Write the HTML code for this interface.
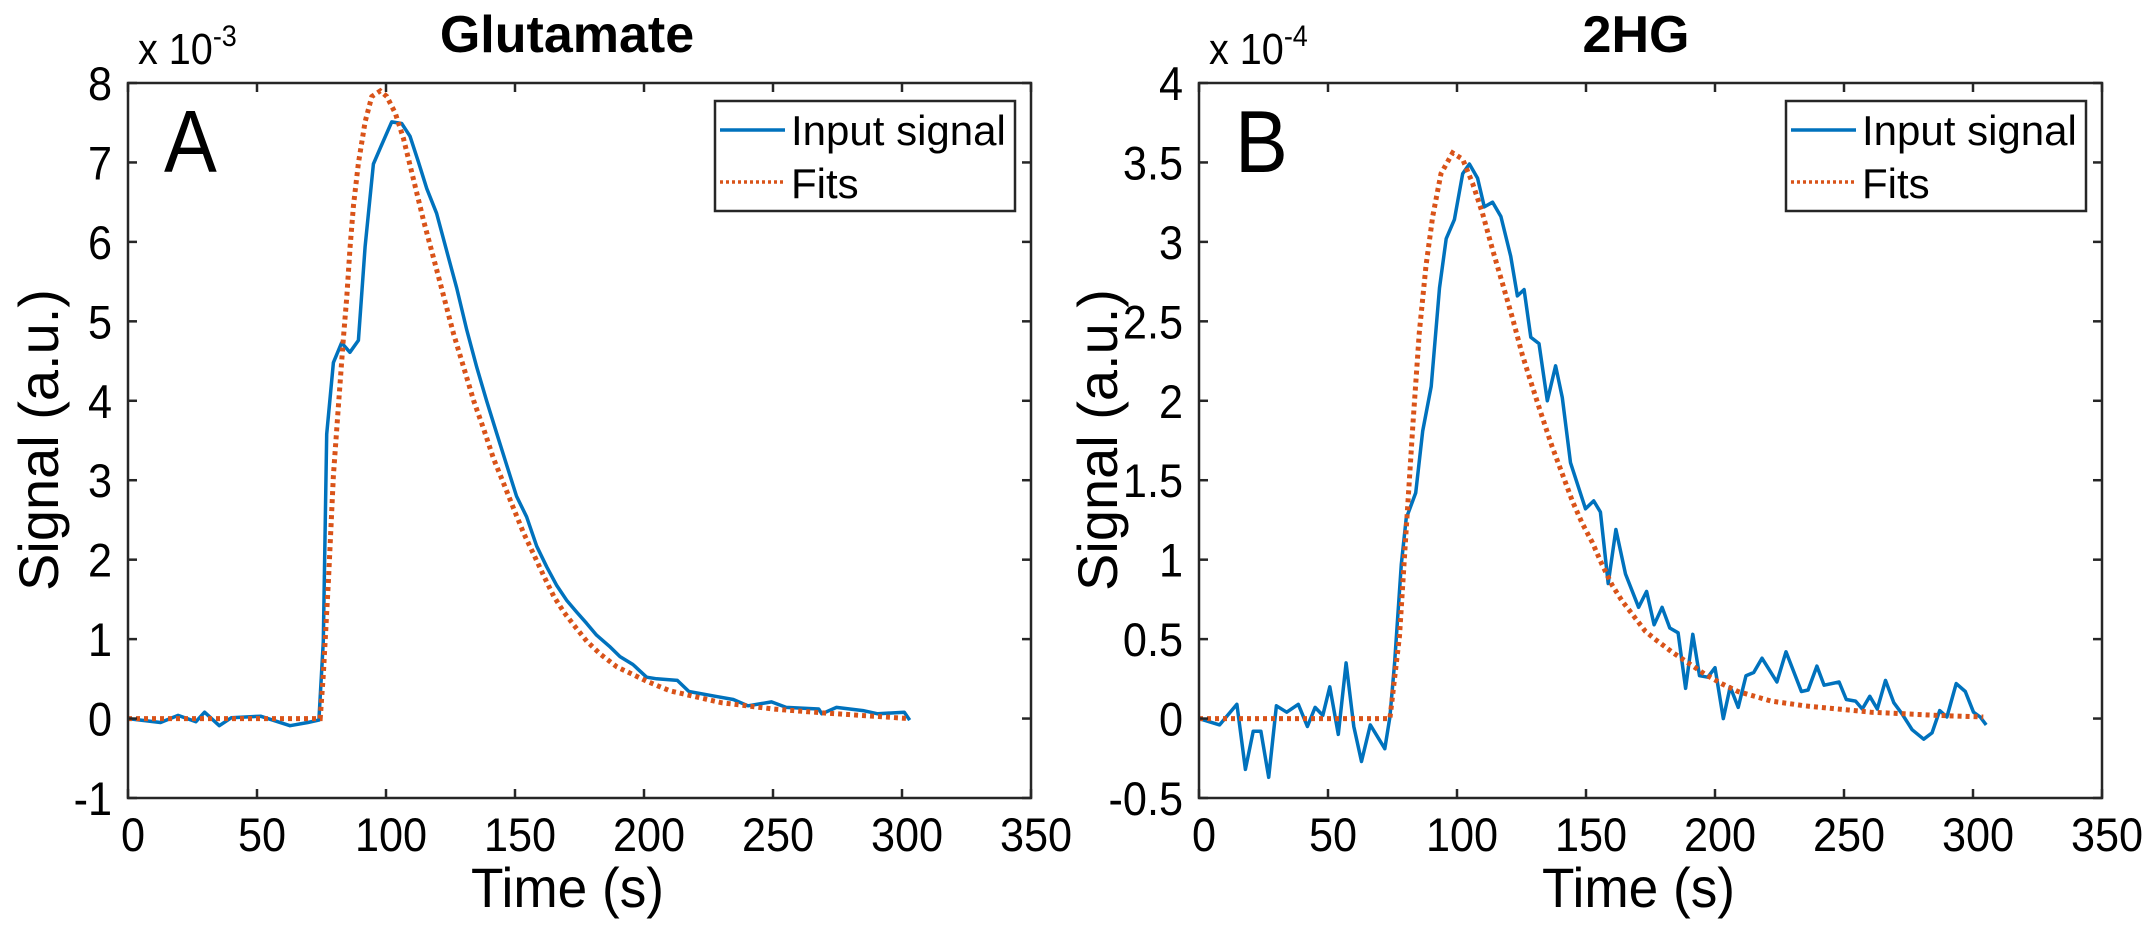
<!DOCTYPE html>
<html><head><meta charset="utf-8"><style>
html,body{margin:0;padding:0;background:#fff;}
svg{display:block;font-family:"Liberation Sans",sans-serif;}
</style></head><body>
<svg id="fig" width="2154" height="927" viewBox="0 0 2154 927" xmlns="http://www.w3.org/2000/svg"></svg>
<script>
// Glutamate (x 1e-3)
const gluInputTime=[0,12.6,19.4,26.3,29.7,35.4,40,51.4,62.8,69.7,74,75.7,77,79.6,82.8,86,89.3,91.9,95.1,98.3,102.2,106.1,109.3,112.5,115.8,119.6,123.5,127.4,131.3,135.2,139,142.9,146.8,150.6,154.5,158.4,162.3,166.1,170,173.9,177.7,181.6,186.6,190.7,195.7,201,204.9,212.9,217.4,227.7,234.6,240.3,249.4,255.1,267.7,268.9,274.6,284.9,290.6,300.9,303];
const gluInputVal=[0,-0.05,0.04,-0.04,0.08,-0.09,0.01,0.03,-0.09,-0.05,-0.02,0.97,3.58,4.48,4.73,4.61,4.76,5.94,6.98,7.22,7.51,7.49,7.33,7.01,6.67,6.36,5.89,5.42,4.89,4.42,4.0,3.59,3.19,2.8,2.54,2.17,1.91,1.68,1.49,1.34,1.2,1.05,0.91,0.78,0.68,0.52,0.5,0.48,0.34,0.28,0.24,0.16,0.21,0.14,0.12,0.06,0.14,0.1,0.06,0.08,-0.02];
const gluFitTime=[0,74.5,75.7,77.7,79.6,81.6,83.5,84.8,86.1,87.4,89.3,91.9,94.5,97.8,100.3,103.6,106.8,110.7,114.6,118.5,122.4,126.2,130.1,134,137.9,141.7,145.6,149.5,153.4,157.2,161.1,165,168.9,172.7,177.9,183.1,189.5,196,201,210,230,250,270,303];
const gluFitVal=[0,0,0.55,1.75,3.06,3.95,4.79,5.31,5.94,6.46,6.99,7.51,7.83,7.9,7.83,7.62,7.3,6.78,6.26,5.79,5.31,4.84,4.42,4.0,3.64,3.27,2.96,2.64,2.33,2.07,1.8,1.54,1.34,1.18,0.97,0.81,0.65,0.55,0.47,0.35,0.2,0.12,0.07,0.0];
const gluTicksY=[-1,0,1,2,3,4,5,6,7,8];
// 2HG (x 1e-4)
const hgInputTime=[0,8,14.7,18,21,24,27,30,34,38.5,42,45,48,50.7,54,57,60,63,66.4,72,74,75.8,78.4,80.3,84,86.7,90,93.2,95.8,99,102.2,104.8,108,110.6,113.8,117,120.8,123.4,126,128.6,131.8,135,138.2,140.8,144,149.8,153,155.6,158.6,161.6,165.3,170.4,173.5,176.4,179.5,182.5,185.7,188.6,191.4,194,197.2,200,203.2,205.9,209,212,215,218.2,224,227.5,233.5,236.1,239.5,242.3,248.1,250.9,254.5,257.1,260,262.9,266.1,269.3,272.5,276.4,280.9,284.1,287.1,289.9,293.5,297,300.2,302.8,305.1];
const hgInputVal=[0,-0.04,0.09,-0.32,-0.08,-0.08,-0.37,0.08,0.04,0.09,-0.05,0.07,0.02,0.2,-0.1,0.35,-0.05,-0.27,-0.04,-0.19,0.01,0.35,0.97,1.26,1.42,1.81,2.09,2.71,3.02,3.14,3.43,3.49,3.4,3.22,3.25,3.16,2.91,2.66,2.7,2.4,2.36,2.0,2.22,2.02,1.61,1.32,1.37,1.3,0.85,1.19,0.91,0.7,0.8,0.59,0.7,0.57,0.54,0.19,0.53,0.27,0.26,0.32,0.0,0.2,0.07,0.27,0.29,0.38,0.23,0.42,0.17,0.18,0.33,0.21,0.23,0.12,0.11,0.06,0.14,0.06,0.24,0.1,0.03,-0.07,-0.13,-0.09,0.05,0.01,0.22,0.17,0.04,0.01,-0.04];
const hgFitTime=[0,74,77.7,80.3,83,85.4,88,90.6,93.8,98.3,102.2,106,109.9,113.8,117.6,121.5,125.3,129.2,133,136.9,140.8,144.7,148.5,152.4,156.2,160.1,164,167.8,173,176.7,183.2,189.6,196,202.5,208.9,221.8,234.7,247.6,260.5,273.4,286.2,304];
const hgFitVal=[0,0,0.52,1.19,1.87,2.43,2.85,3.16,3.43,3.56,3.52,3.37,3.18,2.95,2.74,2.52,2.29,2.09,1.9,1.71,1.54,1.37,1.23,1.11,0.97,0.84,0.74,0.66,0.55,0.5,0.42,0.35,0.28,0.22,0.17,0.11,0.08,0.06,0.04,0.03,0.02,0.01];
const hgTicksY=[-0.5,0,0.5,1,1.5,2,2.5,3,3.5,4];
const ticksX=[0,50,100,150,200,250,300,350];

const NS="http://www.w3.org/2000/svg";
const svg=document.getElementById('fig');
function mk(tag,attrs,parent,text){const e=document.createElementNS(NS,tag);for(const k in attrs)e.setAttribute(k,attrs[k]);if(text!==undefined)e.textContent=text;(parent||svg).appendChild(e);return e;}
function ctext(x,y,size,anchor,str,parent,sc){
  return mk('text',{x:0,y:0,'font-size':size,'text-anchor':anchor,fill:'#000',transform:`translate(${x},${y}) scale(${sc||0.9},1)`},parent,str);
}

function panel(p){
  const g=mk('g',{});
  
  
  const L=p.left,R=p.left+903,T=83,B=798;
  const sx=t=>L+(t-0)/350*(R-L);
  const sy=v=>B-(v-p.ymin)/(p.ymax-p.ymin)*(B-T);
  const pts=(ts,vs)=>ts.map((t,i)=>sx(t).toFixed(1)+','+sy(vs[i]).toFixed(1)).join(' ');
  const inp=mk('polyline',{points:pts(p.inT,p.inV),fill:'none',stroke:'#0072BD','stroke-width':3.5,'stroke-linejoin':'round'},g);
  
  
  const fit=mk('polyline',{points:pts(p.fitT,p.fitV),fill:'none',stroke:'#D95319','stroke-width':5,'stroke-dasharray':'4 4'},g);
  
  
  const box=mk('rect',{x:L,y:T,width:R-L,height:B-T,fill:'none',stroke:'#262626','stroke-width':2.5},g);
  
  
  ticksX.forEach(t=>{
    const x=sx(t);
    mk('line',{x1:x,y1:B,x2:x,y2:B-9,stroke:'#262626','stroke-width':2.5},g);
    mk('line',{x1:x,y1:T,x2:x,y2:T+9,stroke:'#262626','stroke-width':2.5},g);
    const tl=ctext(x+5,851,47,'middle',String(t),g,0.92);
    
    
  });
  p.ticksY.forEach(v=>{
    const y=sy(v);
    mk('line',{x1:L,y1:y,x2:L+9,y2:y,stroke:'#262626','stroke-width':2.5},g);
    mk('line',{x1:R,y1:y,x2:R-9,y2:y,stroke:'#262626','stroke-width':2.5},g);
    const tl=ctext(L-16,y+17,47,'end',String(v),g,0.92);
    
    
  });
  const xt=ctext((L+R)/2-12,907,56,'middle','Time (s)',g,0.95);
  
  
  const yt=mk('text',{x:0,y:0,'font-size':56,'text-anchor':'middle',transform:`translate(${p.ytitleX},440) rotate(-90)`},g,'Signal (a.u.)');
  
  
  const ti=mk('text',{x:p.titleX,y:52,'font-size':52,'font-weight':'bold','text-anchor':'middle'},g,p.title);
  
  
  const ex=ctext(L+10,64,44,'start','x 10',g,0.9);
  
  
  mk('tspan',{'font-size':30,dy:-18},ex,p.exp);
  const lt=ctext(L+36,172,88,'start',p.letter,g,0.9);
  
  
  const lx=L+587,ly=101;
  const lg=mk('g',{},g);
  
  
  mk('rect',{x:lx,y:ly,width:300,height:110,fill:'#fff',stroke:'#262626','stroke-width':2.5},lg);
  mk('line',{x1:lx+5,y1:ly+29,x2:lx+70,y2:ly+29,stroke:'#0072BD','stroke-width':3.5},lg);
  mk('line',{x1:lx+5,y1:ly+81,x2:lx+70,y2:ly+81,stroke:'#D95319','stroke-width':3.5,'stroke-dasharray':'3 3'},lg);
  const e1=mk('text',{x:lx+76,y:ly+44,'font-size':42},lg,'Input signal');
  
  
  const e2=mk('text',{x:lx+76,y:ly+97,'font-size':42},lg,'Fits');
  
  
}
panel({name:'glutamate',left:128,ymin:-1,ymax:8,ticksY:gluTicksY,inT:gluInputTime,inV:gluInputVal,fitT:gluFitTime,fitV:gluFitVal,title:'Glutamate',titleX:567,exp:'-3',letter:'A',ytitleX:58});
panel({name:'2hg',left:1199,ymin:-0.5,ymax:4,ticksY:hgTicksY,inT:hgInputTime,inV:hgInputVal,fitT:hgFitTime,fitV:hgFitVal,title:'2HG',titleX:1636,exp:'-4',letter:'B',ytitleX:1117});
</script>
</body></html>
